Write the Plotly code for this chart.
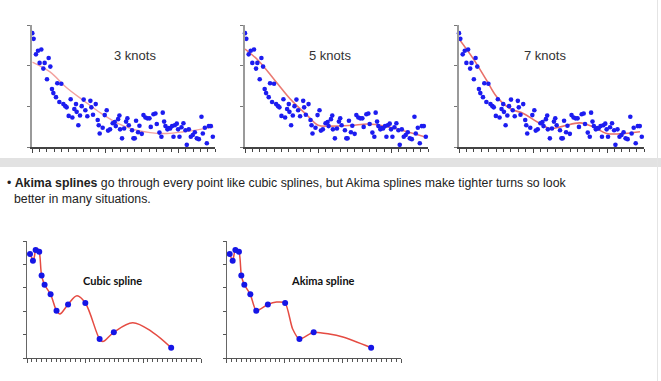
import plotly.graph_objects as go

W, H = 661, 381

# ---------------- data: top scatter (same data in the three panels) ----------------
scatter_x = [0.00, 0.18, 0.50, 0.78, 1.23, 1.00, 1.51, 1.69, 2.24, 2.47, 2.01, 2.69, 2.88, 3.42, 3.97,
             3.24, 3.70, 4.25, 4.52, 4.70, 5.25, 4.98, 5.48, 5.75, 5.98, 6.07, 6.30, 6.53, 6.76, 7.03,
             7.26, 7.53, 7.95, 8.08, 8.31, 8.68, 8.95, 9.09, 9.22, 9.63, 9.91, 10.18, 10.37, 10.64, 11.00,
             11.28, 11.42, 11.74, 11.92, 12.01, 12.28, 12.56, 12.83, 13.01, 13.20, 13.65, 13.84, 14.02, 14.20,
             14.47, 14.66, 14.98, 15.21, 15.48, 15.75, 16.03, 16.21, 16.58, 16.85, 17.03, 17.40, 17.67, 17.85,
             18.04, 18.22, 18.49, 18.68, 18.86, 19.13, 19.32, 19.50, 19.77, 19.95, 20.14, 20.41, 20.68, 20.96,
             21.14, 21.42, 21.69, 21.96, 22.24, 22.51, 22.79, 23.15, 23.33, 23.61, 23.88, 24.16, 24.43, 24.70]
scatter_y = [2.80, 2.66, 2.28, 2.37, 2.40, 2.07, 1.93, 2.07, 2.19, 1.98, 1.67, 1.43, 1.33, 1.57, 1.56,
             1.23, 1.11, 1.06, 1.01, 0.98, 1.18, 0.77, 0.73, 0.94, 1.06, 0.87, 0.54, 0.78, 1.01, 1.17,
             0.91, 0.76, 1.14, 0.98, 0.80, 1.06, 0.67, 0.54, 0.34, 0.48, 0.79, 0.91, 0.41, 0.44, 0.59,
             0.62, 0.52, 0.69, 0.78, 0.44, 0.22, 0.46, 0.63, 0.71, 0.54, 0.42, 0.22, 0.22, 0.65,
             0.37, 0.53, 0.33, 0.79, 0.73, 0.71, 0.71, 0.50, 0.81, 0.83, 0.57, 0.36, 0.26, 0.85,
             0.63, 0.52, 0.44, 0.47, 0.46, 0.52, 0.26, 0.54, 0.58, 0.44, 0.26, 0.49, 0.59, 0.42,
             0.06, 0.44, 0.26, 0.30, 0.37, 0.22, 0.20, 0.75, 0.34, 0.48, 0.10, 0.52, 0.52, 0.26]

# fitted curves
knots3_x = [0.0, 2.42, 4.70, 6.99, 9.27, 11.55, 13.84, 16.12, 18.40, 20.68, 22.97, 24.79]
knots3_y = [2.09, 1.85, 1.46, 1.15, 0.85, 0.60, 0.44, 0.36, 0.34, 0.38, 0.44, 0.50]
knots5_x = [0.0, 1.82, 4.09, 6.36, 8.64, 10.0, 11.82, 14.55, 16.82, 19.09, 21.36, 24.5]
knots5_y = [2.41, 2.13, 1.64, 1.15, 0.76, 0.54, 0.52, 0.54, 0.57, 0.52, 0.42, 0.26]
knots7_x = [0.0, 1.94, 3.74, 5.09, 6.89, 8.69, 10.5, 12.3, 14.1, 16.35, 18.15, 19.95, 21.76, 24.46]
knots7_y = [2.66, 2.17, 1.64, 1.24, 0.95, 0.83, 0.63, 0.46, 0.52, 0.60, 0.50, 0.34, 0.33, 0.38]

knot_labels = ["3 knots", "5 knots", "7 knots"]

# ---------------- data: bottom spline examples ----------------
pts_x = [0.62, 1.23, 1.79, 2.53, 3.02, 3.64, 4.88, 6.11, 8.50, 12.07, 15.02, 17.96, 29.83]
pts_y = [4.44, 4.16, 4.62, 4.54, 3.53, 3.13, 2.72, 2.02, 2.29, 2.35, 0.81, 1.10, 0.44]

cubic_x = [0.62, 1.0, 1.23, 1.5, 1.79, 2.15, 2.53, 3.02, 3.64, 4.88, 6.11, 6.79, 8.50, 10.35, 12.07, 15.02, 15.7, 17.96, 21.87, 26.0, 29.83]
cubic_y = [4.44, 4.28, 4.16, 4.30, 4.62, 4.68, 4.54, 3.53, 3.13, 2.72, 2.02, 1.88, 2.29, 2.66, 2.35, 0.81, 0.70, 1.10, 1.51, 1.10, 0.44]

akima_x = [0.62, 1.23, 1.79, 2.53, 3.02, 3.64, 4.88, 6.11, 8.50, 10.3, 12.07, 13.6, 15.02, 17.96, 24.0, 29.83]
akima_y = [4.44, 4.16, 4.62, 4.54, 3.53, 3.13, 2.72, 2.02, 2.29, 2.39, 2.35, 1.25, 0.81, 1.10, 0.90, 0.44]

spline_labels = ["Cubic spline", "Akima spline"]

# ---------------- layout helpers (pixel -> paper) ----------------
def xd(a, b):
    return [a / W, b / W]

def yd(top, bottom):
    return [1 - bottom / H, 1 - top / H]

fig = go.Figure()

top_panels = [
    (32.3, 215.0, knots3_x, knots3_y, "#f3a39f", 1.4),
    (245.0, 428.0, knots5_x, knots5_y, "#ea7b73", 1.6),
    (459.0, 644.0, knots7_x, knots7_y, "#e8706a", 1.6),
]
label_pos = [(135, 55), (330, 55), (545, 55)]

for i, (x0, x1, cx, cy, ccol, cw) in enumerate(top_panels):
    n = i + 1
    xa = "x" if n == 1 else f"x{n}"
    ya = "y" if n == 1 else f"y{n}"
    fig.add_trace(go.Scatter(x=cx, y=cy, mode="lines", line=dict(color=ccol, width=cw, shape="spline", smoothing=1.0),
                             xaxis=xa, yaxis=ya, hoverinfo="skip", cliponaxis=False))
    fig.add_trace(go.Scatter(x=scatter_x, y=scatter_y, mode="markers",
                             marker=dict(color="#1c1cf0", size=4.6, line=dict(width=0)),
                             xaxis=xa, yaxis=ya, cliponaxis=False))
    xkey = "xaxis" if n == 1 else f"xaxis{n}"
    ykey = "yaxis" if n == 1 else f"yaxis{n}"
    fig.layout[xkey] = dict(domain=xd(x0, x1), range=[0, 25], anchor=ya, showgrid=False, zeroline=False,
                            showline=True, linecolor="#444444", linewidth=1.5, showticklabels=False,
                            ticks="outside", tick0=0, dtick=10, ticklen=4, tickcolor="#444444", tickwidth=1.2,
                            minor=dict(ticks="outside", dtick=1, ticklen=2.5, tickcolor="#444444", tickwidth=1, showgrid=False),
                            fixedrange=True)
    fig.layout[ykey] = dict(domain=yd(25, 147.3), range=[0, 3], anchor=xa, showgrid=False, zeroline=False,
                            showline=True, linecolor="#9a9a9a", linewidth=2, showticklabels=False,
                            ticks="outside", tick0=0, dtick=1, ticklen=3, tickcolor="#777777", tickwidth=1,
                            fixedrange=True)
    lx, ly = label_pos[i]
    fig.add_annotation(x=lx / W, y=1 - ly / H, xref="paper", yref="paper", text=knot_labels[i], showarrow=False,
                       font=dict(family="Liberation Sans, Arial", size=13, color="#333333"), xanchor="center", yanchor="middle")

bottom_panels = [
    (27.0, 201.0, cubic_x, cubic_y, 1.0, (112, 280)),
    (226.7, 401.0, akima_x, akima_y, 0.6, (323, 280)),
]
for j, (x0, x1, cx, cy, sm, (lx, ly)) in enumerate(bottom_panels):
    n = 4 + j
    xa, ya = f"x{n}", f"y{n}"
    fig.add_trace(go.Scatter(x=cx, y=cy, mode="lines", line=dict(color="#e54b42", width=1.5, shape="spline", smoothing=sm),
                             xaxis=xa, yaxis=ya, hoverinfo="skip", cliponaxis=False))
    fig.add_trace(go.Scatter(x=pts_x, y=pts_y, mode="markers", marker=dict(color="#1515e6", size=6, line=dict(width=0)),
                             xaxis=xa, yaxis=ya, cliponaxis=False))
    fig.layout[f"xaxis{n}"] = dict(domain=xd(x0, x1), range=[0, 36], anchor=ya, showgrid=False, zeroline=False,
                                   showline=True, linecolor="#555555", linewidth=1.3, showticklabels=False,
                                   ticks="outside", tick0=0, dtick=12, ticklen=3.5, tickcolor="#555555", tickwidth=1,
                                   minor=dict(ticks="outside", dtick=1, ticklen=2.5, tickcolor="#555555", tickwidth=1, showgrid=False),
                                   fixedrange=True)
    fig.layout[f"yaxis{n}"] = dict(domain=yd(241, 358), range=[0, 5], anchor=xa, showgrid=False, zeroline=False,
                                   showline=True, linecolor="#666666", linewidth=1.3, showticklabels=False,
                                   ticks="outside", tick0=0, dtick=1, ticklen=3, tickcolor="#555555", tickwidth=1,
                                   fixedrange=True)
    fig.add_annotation(x=lx / W, y=1 - ly / H, xref="paper", yref="paper", text=spline_labels[j], showarrow=False,
                       font=dict(family="Lato, Open Sans", size=11, color="#111111", weight="bold"),
                       xanchor="center", yanchor="middle")

# slide decorations
fig.add_shape(type="rect", xref="paper", yref="paper", x0=0, x1=1, y0=1 - 167 / H, y1=1 - 158 / H,
              fillcolor="#e2e2e2", line=dict(width=0), layer="below")
fig.add_shape(type="line", xref="paper", yref="paper", x0=657.5 / W, x1=657.5 / W, y0=0, y1=1,
              line=dict(color="#e4e4e4", width=1), layer="below")

fig.add_annotation(x=5 / W, y=1 - 183 / H, xref="paper", yref="paper",
                   text="• <b>Akima splines</b> go through every point like cubic splines, but Akima splines make tighter turns so look",
                   showarrow=False, xanchor="left", yanchor="middle",
                   font=dict(family="Liberation Sans, Arial", size=12.3, color="#222222"))
fig.add_annotation(x=12 / W, y=1 - 199.5 / H, xref="paper", yref="paper",
                   text="better in many situations.",
                   showarrow=False, xanchor="left", yanchor="middle",
                   font=dict(family="Liberation Sans, Arial", size=12.3, color="#222222"))

fig.update_layout(width=W, height=H, margin=dict(l=0, r=0, t=0, b=0), showlegend=False,
                  paper_bgcolor="white", plot_bgcolor="white")

fig.write_html("out.html", config={"displayModeBar": False},
               post_script="document.body.style.margin='0';document.body.style.overflow='hidden';")
